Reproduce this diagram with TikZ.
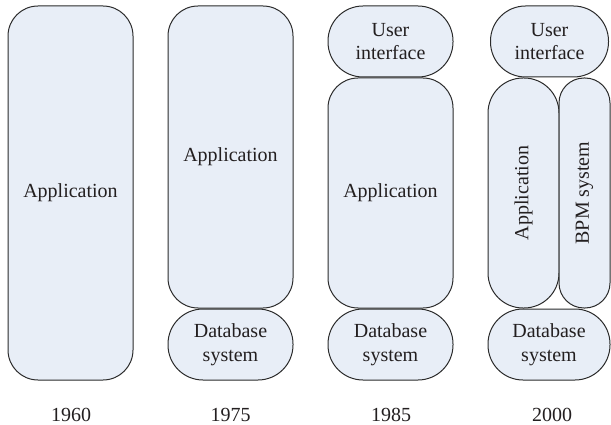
\documentclass[tikz,border=0pt]{standalone}
\usepackage{fontspec}
\setmainfont{Liberation Serif}
\definecolor{boxfill}{HTML}{E8EEF7}
\definecolor{boxline}{HTML}{2B2B2B}
\definecolor{txt}{HTML}{231F20}
\begin{document}
\begin{tikzpicture}[x=1pt,y=-1pt,
  blk/.style={draw=boxline, fill=boxfill, line width=1pt, inner sep=0pt, align=center,
    text=txt, font=\fontsize{20}{23.5}\selectfont},
  col/.style={blk, rounded corners=30pt},
  pill/.style={blk, rounded corners=35pt},
  yr/.style={text=txt, font=\fontsize{20}{23}\selectfont, inner sep=0pt}]
\useasboundingbox (0,0) rectangle (611,425);
% 1960
\node[col, minimum width=125pt, minimum height=374pt] (app60) at (70.5,193) {Application};
% 1975
\node[col, minimum width=125pt, minimum height=302pt] (app75) at (230.5,157) {Application};
\node[pill, minimum width=125pt, minimum height=71pt] (db75) at (230.5,344.5) {Database\\system};
% 1985
\node[pill, minimum width=125pt, minimum height=71pt] (ui85) at (390.5,41.5) {User\\interface};
\node[col, minimum width=125pt, minimum height=230pt] (app85) at (390.5,193) {Application};
\node[pill, minimum width=125pt, minimum height=71pt] (db85) at (390.5,344.5) {Database\\system};
% 2000
\node[pill, minimum width=118pt, minimum height=71pt] (ui00) at (549.5,41.5) {User\\interface};
\node[blk, rounded corners=35pt, rotate=90, minimum width=230pt, minimum height=71pt] (app00) at (523.5,193) {Application};
\node[blk, rounded corners=25pt, rotate=90, minimum width=230pt, minimum height=51pt] (bpm00) at (584.5,193) {BPM system};
\node[pill, minimum width=122pt, minimum height=71pt] (db00) at (549,344.5) {Database\\system};
% years
\node[yr] (y60) at (71,415) {1960};
\node[yr] (y75) at (230.5,415) {1975};
\node[yr] (y85) at (391,415) {1985};
\node[yr] (y00) at (552,415) {2000};
\end{tikzpicture}
\end{document}
